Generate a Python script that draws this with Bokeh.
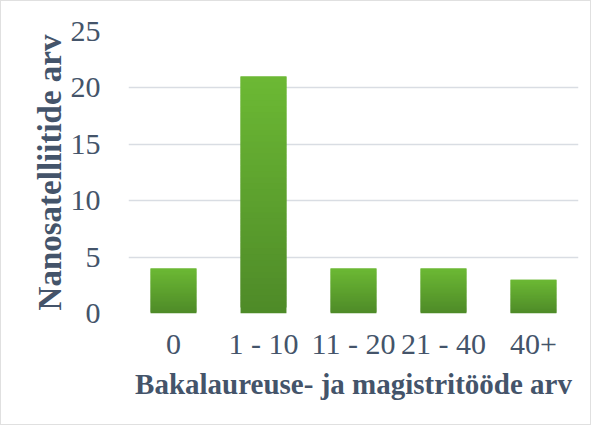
from bokeh.plotting import figure
from bokeh.models import Range1d, FactorRange, ColumnDataSource
from bokeh.embed import file_html
from bokeh.resources import INLINE

categories = ["0", "1 - 10", "11 - 20", "21 - 40", "40+"]
counts = [4, 21, 4, 4, 3]
y_ticks = [0, 5, 10, 15, 20, 25]

TEXT = "#44546a"
FONT = "Liberation Serif"
TOP_RGB = (108, 185, 52)
BOT_RGB = (78, 138, 40)
N = 40

p = figure(width=591, height=425, x_range=FactorRange(factors=categories, range_padding=0),
           y_range=Range1d(0, 25), output_backend="svg", toolbar_location=None,
           min_border_left=127, min_border_right=14, min_border_top=30, min_border_bottom=113)
p.styles = {"border": "1px solid #e0e0e0"}

# gradient bars built from data values (overlapping slices to avoid seams)
xs, bots, tops, cols = [], [], [], []
for c, v in zip(categories, counts):
    for k in range(N):
        t = (k + 0.5) / N
        r = round(BOT_RGB[0] + (TOP_RGB[0] - BOT_RGB[0]) * t)
        g = round(BOT_RGB[1] + (TOP_RGB[1] - BOT_RGB[1]) * t)
        b = round(BOT_RGB[2] + (TOP_RGB[2] - BOT_RGB[2]) * t)
        xs.append(c)
        bots.append(v * k / N)
        tops.append(v * min(k + 2, N) / N)
        cols.append("#%02x%02x%02x" % (r, g, b))
src = ColumnDataSource(dict(x=xs, bottom=bots, top=tops, color=cols))
p.vbar(x="x", bottom="bottom", top="top", width=0.51, source=src,
       fill_color="color", line_color=None)

p.outline_line_color = None
p.xgrid.grid_line_color = None
p.ygrid.grid_line_color = "#d9dde3"
p.ygrid.grid_line_width = 1.5
p.ygrid.ticker = y_ticks
p.yaxis.ticker = y_ticks

for ax in (p.xaxis, p.yaxis):
    ax.axis_line_color = None
    ax.major_tick_line_color = None
    ax.minor_tick_line_color = None
    ax.major_label_text_font = FONT
    ax.major_label_text_font_size = "30px"
    ax.major_label_text_color = TEXT
    ax.axis_label_text_font = FONT
    ax.axis_label_text_font_style = "bold"
    ax.axis_label_text_color = TEXT

p.xaxis.axis_label = "Bakalaureuse- ja magistritööde arv"
p.yaxis.axis_label = "Nanosatelliitide arv"
p.xaxis.axis_label_text_font_size = "29px"
p.yaxis.axis_label_text_font_size = "33px"
p.xaxis.major_label_standoff = 7
p.xaxis.axis_label_standoff = 5
p.yaxis.major_label_standoff = 22
p.yaxis.axis_label_standoff = 0

open("out.html", "w").write(file_html(p, INLINE))
